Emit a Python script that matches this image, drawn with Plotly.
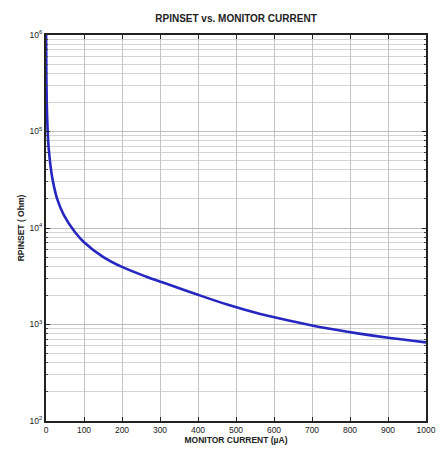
import plotly.graph_objects as go

# Data
monitor_current_uA = [0.3, 1, 2, 3, 5, 7, 12.8, 18.7, 29.8, 47, 77, 100, 150, 200, 264,
                      308, 394, 479, 564, 650, 735, 820, 905, 1000]
rpinset_ohm = [1e6, 3.6e5, 2e5, 1.4e5, 90000, 68000, 41200, 29700, 19800, 13600, 8980,
               7130, 5030, 3950, 3130, 2720, 2070, 1600, 1285, 1076, 918, 809, 725, 653]

x_ticks = list(range(0, 1001, 100))
y_decades = [2, 3, 4, 5, 6]
y_tickvals = [10 ** d for d in y_decades]
y_ticktext = ["10<sup>%d</sup>" % d for d in y_decades]
y_minor = [m * 10 ** d for d in y_decades[:-1] for m in range(2, 10)]

FONT = "Liberation Sans, Arial, sans-serif"

# page body has an 8px margin, so the figure is drawn 8px smaller
W, H = 440, 446

fig = go.Figure()
fig.add_trace(go.Scatter(
    x=monitor_current_uA, y=rpinset_ohm, mode="lines",
    line=dict(color="#2626c0", width=2.6, shape="spline", smoothing=1.0),
    showlegend=False,
))

fig.update_layout(
    width=W, height=H,
    margin=dict(l=35, r=14, t=27, b=33),
    paper_bgcolor="white", plot_bgcolor="white",
    font=dict(family=FONT, size=8, color="#222"),
    title=dict(text="<b>RPINSET vs. MONITOR CURRENT</b>", x=0.5, xref="paper",
               y=1 - 10 / H, yref="container", yanchor="middle",
               font=dict(size=10, color="#222")),
)

fig.update_xaxes(
    range=[0, 1000], tickvals=x_ticks,
    ticks="inside", ticklen=4, tickcolor="#222", tickwidth=1,
    showline=True, linecolor="#222", linewidth=2, mirror="allticks",
    showgrid=True, gridcolor="#c4c4c4", gridwidth=1,
    zeroline=False,
    title=dict(text="<b>MONITOR CURRENT (µA)</b>", standoff=1, font=dict(size=8.5)),
    tickfont=dict(size=8.5),
)
fig.update_yaxes(
    type="log", range=[2, 6], tickvals=y_tickvals, ticktext=y_ticktext,
    ticks="inside", ticklen=4, tickcolor="#222", tickwidth=1,
    showline=True, linecolor="#222", linewidth=2, mirror="allticks",
    showgrid=True, gridcolor="#bdbdbd", gridwidth=1,
    minor=dict(tickmode="array", tickvals=y_minor, ticks="inside", ticklen=2,
               tickcolor="#444", showgrid=True, gridcolor="#d4d4d4", gridwidth=1),
    zeroline=False,
    title=dict(text="<b>RPINSET ( Ohm)</b>", standoff=4, font=dict(size=8.5)),
    tickfont=dict(size=8.5),
)

fig.write_html("out.html")
